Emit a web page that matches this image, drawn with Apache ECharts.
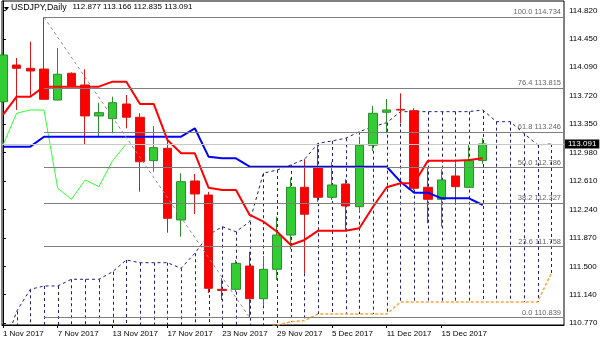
<!DOCTYPE html>
<html><head><meta charset="utf-8">
<script src="https://cdn.jsdelivr.net/npm/echarts@6/dist/echarts.min.js"></script>
<style>html,body{margin:0;padding:0;background:#fff}#c{width:600px;height:343px}</style>
</head><body><div id="c"></div>
<script>
// ---------- data ----------
const symbolTitle = 'USDJPY,Daily';
const ohlcTitle = '112.877 113.166 112.835 113.091';
const dateLabels = ['1 Nov 2017','7 Nov 2017','13 Nov 2017','17 Nov 2017','23 Nov 2017','29 Nov 2017','5 Dec 2017','11 Dec 2017','15 Dec 2017'];
const dateTickBars = [0,4,8,12,16,20,24,28,32];
const priceTickLabels = ['110.770','111.140','111.500','111.870','112.240','112.610','112.980','113.350','113.720','114.090','114.450','114.820'];

const openP  = [113.639,114.115,114.072,114.063,113.661,114.008,113.856,113.454,113.419,113.609,113.437,112.874,113.035,112.105,112.611,112.429,111.206,111.206,111.508,111.084,111.466,111.910,112.529,112.788,112.399,112.572,112.277,113.074,113.502,113.540,113.523,112.529,112.373,112.676,112.529,112.877];
const highP  = [114.288,114.206,114.418,114.734,114.336,114.020,114.060,113.626,113.704,113.726,113.489,113.324,113.143,112.711,112.702,112.470,111.349,111.586,111.694,111.638,112.148,112.646,112.883,113.100,112.861,112.633,113.185,113.584,113.674,113.748,113.554,112.776,112.763,112.840,113.078,113.166];
const lowP   = [113.620,113.532,113.704,113.667,113.655,113.840,113.078,113.194,113.229,113.294,112.472,112.731,111.940,111.888,112.183,111.158,111.067,111.170,110.839,111.000,111.327,111.725,111.414,112.342,112.365,111.975,112.213,113.000,113.229,113.359,112.494,112.062,112.018,112.299,112.520,112.835];
const closeP = [114.245,114.072,114.037,113.670,113.995,113.843,113.454,113.497,113.626,113.437,112.861,113.043,112.127,112.602,112.442,111.219,111.190,111.543,111.084,111.465,111.910,112.529,112.179,112.399,112.559,112.287,113.074,113.489,113.532,113.530,112.516,112.373,112.624,112.537,112.874,113.091];

const tenkan = [113.467,113.704,113.704,113.834,113.834,113.834,113.834,113.834,113.899,113.899,113.610,113.610,113.143,112.970,112.970,112.524,112.494,112.494,112.170,112.083,111.953,111.781,111.846,111.966,111.966,111.966,111.997,112.277,112.529,112.581,112.581,112.874,112.874,112.874,112.883,112.905];
const kijun  = [113.056,113.056,113.056,113.185,113.185,113.185,113.185,113.185,113.185,113.185,113.185,113.185,113.185,113.185,113.294,112.926,112.905,112.905,112.796,112.796,112.796,112.796,112.796,112.796,112.796,112.796,112.796,112.796,112.796,112.602,112.459,112.459,112.386,112.386,112.386,112.299];
const chikou = [113.074,113.489,113.532,113.530,112.516,112.373,112.624,112.537,112.874,113.091];
const senkouB = [110.400,110.920,111.206,111.249,111.249,111.336,111.336,111.336,111.434,111.586,111.551,111.551,111.551,111.479,111.673,111.910,112.018,111.953,112.083,112.711,112.753,112.819,112.892,113.100,113.130,113.165,113.250,113.315,113.367,113.510,113.510,113.510,113.510,113.510,113.510,113.532,113.380,113.380,113.229,113.078,113.091];
const senkouA = [110.650,110.650,110.650,110.650,110.650,110.650,110.650,110.650,110.650,110.650,110.650,110.650,110.650,110.650,110.650,110.650,110.650,110.650,110.660,110.700,110.740,110.786,110.800,110.886,110.886,110.886,110.886,110.886,110.886,111.040,111.040,111.040,111.040,111.040,111.040,111.040,111.040,111.040,111.040,111.040,111.414];

const fibRatios = ['100.0','76.4','61.8','50.0','38.2','23.6','0.0'];
const fibPrices = [114.734,113.815,113.246,112.786,112.327,111.758,110.839];
const fibStartBar = 3, fibEndBar = 18;
const lastPrice = 113.091;

// axis extents (fitted to the picture's plot frame)
const xMin = -0.066, xMax = 40.93;
const yMin = 110.743, yMax = 114.945;

// ---------- chart ----------
const FONT = 'Liberation Sans';
const chart = echarts.init(document.getElementById('c'), null, {renderer:'canvas'});
const candleData = openP.map((o,i)=>[i,o,closeP[i],lowP[i],highP[i]]);
const cloudData = senkouB.map((b,i)=>[i,b,senkouA[i]]);
const idx = a => a.map((v,i)=>[i,v]);

const fibLines = fibPrices.map((p,k)=>[
  {name: fibRatios[k]+' '+p.toFixed(3), coord:[fibStartBar,p]},
  {coord:[xMax,p]}
]);

chart.setOption({
  animation:false,
  backgroundColor:'#fff',
  grid:{left:2,right:36,top:1,bottom:18,show:true,borderColor:'#000',borderWidth:1,outerBoundsMode:'none'},
  xAxis:{type:'value',min:xMin,max:xMax,position:'bottom',
    axisLine:{show:true,onZero:false,lineStyle:{color:'#000',width:1}},
    axisTick:{show:true,customValues:dateTickBars,length:3,lineStyle:{color:'#000'}},
    axisLabel:{show:true,customValues:dateTickBars,align:'left',margin:5,color:'#000',fontFamily:FONT,fontSize:8,
      formatter:v=>dateLabels[dateTickBars.indexOf(Math.round(v))]||''},
    splitLine:{show:false}},
  yAxis:{type:'value',min:yMin,max:yMax,position:'right',scale:true,
    axisLine:{show:true,lineStyle:{color:'#000',width:1}},
    axisTick:{show:true,customValues:priceTickLabels.map(Number),length:3,lineStyle:{color:'#000'}},
    axisLabel:{show:true,customValues:priceTickLabels.map(Number),margin:5,color:'#000',fontFamily:FONT,fontSize:8,
      formatter:v=>{const k=priceTickLabels.map(Number).findIndex(t=>Math.abs(t-v)<1e-6);return k>=0?priceTickLabels[k]:'';}},
    splitLine:{show:false}},
  series:[
    {type:'custom',name:'cloud',data:cloudData,clip:true,z:1,silent:true,
      renderItem:(params,api)=>{
        const p1=api.coord([api.value(0),api.value(1)]);
        const p2=api.coord([api.value(0),api.value(2)]);
        const x=Math.round(p1[0])+0.5;
        return {type:'line',shape:{x1:x,y1:p1[1],x2:x,y2:p2[1]},style:{stroke:'#1e1e78',lineWidth:1,lineDash:[3,3]}};
      }},
    {type:'line',name:'senkouB',data:idx(senkouB),symbol:'none',z:2,silent:true,
      lineStyle:{color:'#1e1e78',width:1,type:[3,3]}},
    {type:'line',name:'senkouA',data:idx(senkouA),symbol:'none',z:2,silent:true,
      lineStyle:{color:'#ffa53c',width:1.5,type:[3,2]}},
    {type:'line',name:'fib',data:[],z:2,silent:true,
      markLine:{silent:true,symbol:['none','none'],animation:false,
        lineStyle:{color:'#7f7f7f',width:1,type:'solid'},
        label:{show:true,position:'insideEndTop',formatter:'{b}',color:'#666',fontFamily:FONT,fontSize:7.5,distance:[3,1]},
        data:fibLines.concat([
          [{coord:[fibStartBar,fibPrices[0]],lineStyle:{color:'#8c8c96',type:[3,3]},label:{show:false}},{coord:[fibEndBar,fibPrices[6]]}],
          [{name:'bid',coord:[xMin,lastPrice],lineStyle:{color:'#c8c8c8'},
            label:{show:true,position:'end',formatter:lastPrice.toFixed(3),color:'#fff',backgroundColor:'#000',padding:[1,3,0,3],distance:1,fontSize:8,fontFamily:FONT}},
           {coord:[xMax,lastPrice]}]
        ])}},
    {type:'candlestick',name:'USDJPY',data:candleData,encode:{x:0,y:[1,2,3,4]},barWidth:9,z:3,clip:true,silent:true,
      itemStyle:{color:'#32cd32',color0:'#ff0000',borderColor:'#2e8b2e',borderColor0:'#d81818',borderWidth:1}},
    {type:'line',name:'chikou',data:idx(chikou),symbol:'none',z:4,silent:true,lineStyle:{color:'#33ff33',width:1}},
    {type:'line',name:'kijun',data:idx(kijun),symbol:'none',z:4,silent:true,lineStyle:{color:'#0000ff',width:2}},
    {type:'line',name:'tenkan',data:idx(tenkan),symbol:'none',z:4,silent:true,lineStyle:{color:'#ff0000',width:2}}
  ],
  graphic:[
    {type:'polygon',shape:{points:[[4,7],[9,7],[6.5,10.5]]},style:{fill:'#000'},z:100},
    {type:'text',left:11,top:3,style:{text:symbolTitle,font:'8.8px "Liberation Sans"',fill:'#000'},z:100},
    {type:'text',left:72.5,top:3,style:{text:ohlcTitle,font:'8px "Liberation Sans"',fill:'#000'},z:100}
  ]
});
</script></body></html>
